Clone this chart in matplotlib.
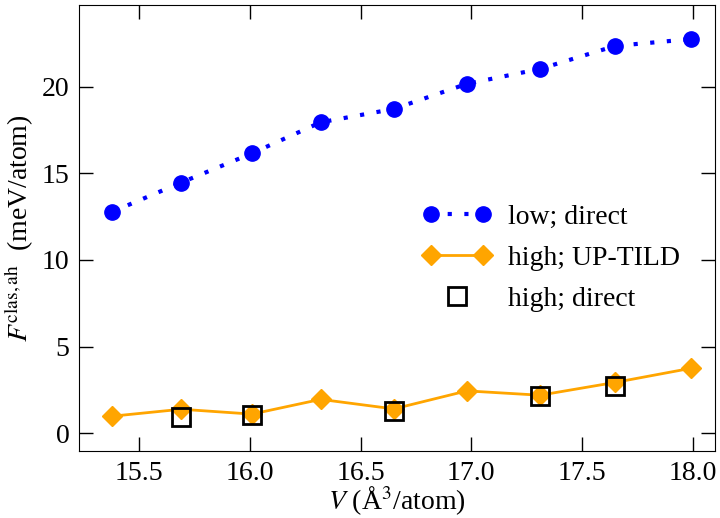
import matplotlib
matplotlib.use("Agg")
import matplotlib.pyplot as plt
from matplotlib.legend_handler import HandlerLine2D

plt.rcParams['font.family'] = ['Liberation Serif', 'DejaVu Serif']
plt.rcParams['mathtext.fontset'] = 'stix'

# volumi (Å^3/atom)
v_low = [15.38, 15.69, 16.01, 16.32, 16.65, 16.98, 17.31, 17.65, 17.99]
f_low = [12.78, 14.46, 16.15, 17.94, 18.71, 20.16, 21.02, 22.35, 22.74]

v_tild = [15.38, 15.69, 16.01, 16.32, 16.65, 16.98, 17.31, 17.65, 17.99]
f_tild = [0.98, 1.38, 1.10, 1.95, 1.40, 2.44, 2.19, 2.93, 3.74]

v_direct = [15.69, 16.01, 16.65, 17.31, 17.65]
f_direct = [0.94, 1.02, 1.30, 2.12, 2.75]

fig = plt.figure(figsize=(7.2, 5.18), dpi=100)
ax = fig.add_axes([0.11, 0.129, 0.883, 0.861])

ax.plot(v_low, f_low, color='blue', linestyle=(0, (1, 3)), linewidth=3,
        marker='o', markersize=11, label='low; direct')
ax.plot(v_tild, f_tild, color='orange', linestyle='-', linewidth=2,
        marker='D', markersize=10, label='high; UP-TILD')
sq, = ax.plot(v_direct, f_direct, linestyle='none', marker='s', markersize=13,
              markerfacecolor='none', markeredgecolor='black', markeredgewidth=2,
              label='high; direct')

ax.set_xlim(15.23, 18.1)
ax.set_ylim(-1.04, 24.7)
ax.set_xticks([15.5, 16.0, 16.5, 17.0, 17.5, 18.0])
ax.set_yticks([0, 5, 10, 15, 20])
ax.tick_params(direction='in', length=10, width=1, labelsize=20,
               top=True, right=True, pad=7)

ax.set_xlabel(r'$V$ (Å$^3$/atom)', fontsize=20, labelpad=-1)
ax.set_ylabel(r'$F^{\rm clas,ah}$  (meV/atom)', fontsize=20, labelpad=4)

ax.legend(loc='center right', bbox_to_anchor=(0.985, 0.433), frameon=False,
          fontsize=20, numpoints=2, handlelength=2.5, labelspacing=0.55,
          handletextpad=0.6, handler_map={sq: HandlerLine2D(numpoints=1)})

fig.savefig('out.png', dpi=100)
